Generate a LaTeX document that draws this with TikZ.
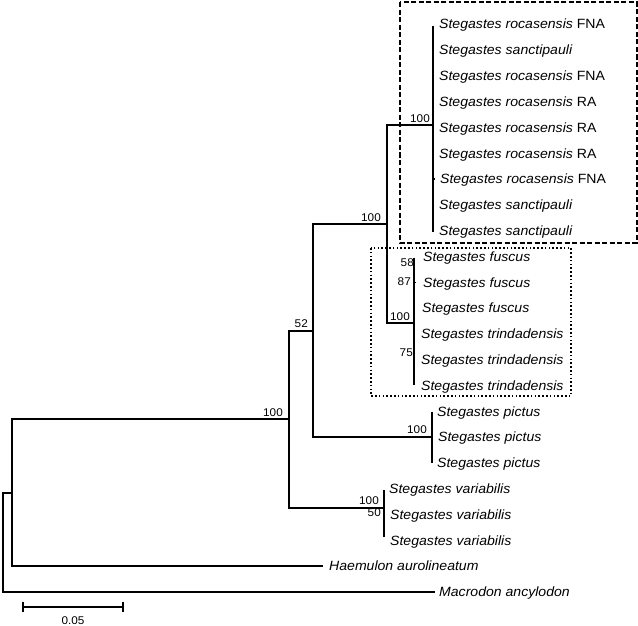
\documentclass[tikz,border=0pt]{standalone}
\usepackage{fontspec}
\setmainfont{Liberation Sans}
\newfontfamily\taxfont[FakeStretch=1.05]{Liberation Sans}
\begin{document}
\begin{tikzpicture}[x=1pt,y=-1pt,
  br/.style={line width=1.7pt},
  thickbr/.style={line width=2.8pt},
  tax/.style={anchor=west, inner sep=0pt, text height=10pt, text depth=1pt,
    font=\taxfont\fontsize{13.4}{15}\selectfont\itshape},
  bs/.style={anchor=base east, inner sep=0pt, font=\taxfont\fontsize{11.2}{13}\selectfont},
  dashbox/.style={line width=2pt, dash pattern=on 5pt off 2.5pt},
  dotbox/.style={line width=1.8pt, dash pattern=on 1.6pt off 2.2pt}]
\useasboundingbox[fill=white] (0,0) rectangle (638,626);

% tip labels
\node[tax] (l1) at (439,24.5) {Stegastes rocasensis \upshape FNA};
\node[tax] (l2) at (439,50.3) {Stegastes sanctipauli};
\node[tax] (l3) at (439,76.1) {Stegastes rocasensis \upshape FNA};
\node[tax] (l4) at (439,101.9) {Stegastes rocasensis \upshape RA};
\node[tax] (l5) at (439,127.7) {Stegastes rocasensis \upshape RA};
\node[tax] (l6) at (439,153.5) {Stegastes rocasensis \upshape RA};
\node[tax] (l7) at (440,179.3) {Stegastes rocasensis \upshape FNA};
\node[tax] (l8) at (439,205.1) {Stegastes sanctipauli};
\node[tax] (l9) at (439,230.9) {Stegastes sanctipauli};
\node[tax] (l10) at (423,256.7) {Stegastes fuscus};
\node[tax] (l11) at (423,282.5) {Stegastes fuscus};
\node[tax] (l12) at (422,308.3) {Stegastes fuscus};
\node[tax] (l13) at (421,334.1) {Stegastes trindadensis};
\node[tax] (l14) at (421,359.9) {Stegastes trindadensis};
\node[tax] (l15) at (421,385.7) {Stegastes trindadensis};
\node[tax] (l16) at (437,411.5) {Stegastes pictus};
\node[tax] (l17) at (438,437.3) {Stegastes pictus};
\node[tax] (l18) at (437,463.1) {Stegastes pictus};
\node[tax] (l19) at (389,488.9) {Stegastes variabilis};
\node[tax] (l20) at (390,514.7) {Stegastes variabilis};
\node[tax] (l21) at (390,540.5) {Stegastes variabilis};
\node[tax] (l22) at (329,566.3) {Haemulon aurolineatum};
\node[tax] (l23) at (439,592.1) {Macrodon ancylodon};

% internal nodes
\coordinate (nA) at (433,125);
\coordinate (nC) at (414,323);
\coordinate (nB) at (387,224);
\coordinate (nE) at (432,437);
\coordinate (nD) at (313,331);
\coordinate (nG) at (384,508);
\coordinate (nF) at (289,419);
\coordinate (nH) at (12,493);
\coordinate (root) at (3,542);
\coordinate (tHa) at (323,566.3);
\coordinate (tMa) at (435,592.1);

% branches
\draw[br] (root) |- (nH);
\draw[br] (root) |- (tMa);
\draw[br] (nH) |- (nF);
\draw[br] (nH) |- (tHa);
\draw[br] (nF) |- (nD);
\draw[br] (nF) |- (nG);
\draw[br] (nD) |- (nB);
\draw[br] (nD) |- (nE);
\draw[br] (nB) |- (nA);
\draw[br] (nB) |- (nC);
\draw[br] ([yshift=-2pt]nA |- l1) -- ([yshift=-1pt]nA |- l9);
\draw[br] (nA |- l7) -- ([xshift=2pt]nA |- l7);
\draw[br] ([yshift=-1pt]nC |- l10) -- ([yshift=1pt]nC |- l15);
\draw[thickbr] (414,279) -- (414,306);
\draw[thickbr] (414,333) -- (414,353);
\draw[br] (nC |- l11) -- ([xshift=2pt]nC |- l11);
\draw[br] (nE |- l16) -- (nE |- l18);
\draw[br] ([yshift=-1pt]nG |- l19) -- ([yshift=4pt]nG |- l21);
\draw[thickbr] (384,508) -- (384,522);

% bootstrap values
\node[bs] (b1) at (430,122.7) {100};
\node[bs] (b2) at (381,221.5) {100};
\node[bs] (b3) at (410,320) {100};
\node[bs] (b4) at (414,266) {58};
\node[bs] (b5) at (411,285.5) {87};
\node[bs] (b6) at (413,356) {75};
\node[bs] (b7) at (308,327.5) {52};
\node[bs] (b8) at (283,416.5) {100};
\node[bs] (b9) at (427,433) {100};
\node[bs] (b10) at (379,504.5) {100};
\node[bs] (b11) at (381,516) {50};

% clade boxes
\draw[dashbox] (399.5,2.5) rectangle (636.5,242.5);
\draw[dotbox] (371,248) rectangle (571,396);

% scale bar
\coordinate (sb1) at (23,607);
\coordinate (sb2) at (123,607);
\draw[br] (sb1) -- (sb2);
\draw[br] ([yshift=-5pt]sb1) -- ([yshift=5pt]sb1);
\draw[br] ([yshift=-5pt]sb2) -- ([yshift=5pt]sb2);
\node[anchor=center, inner sep=0pt, font=\taxfont\fontsize{11.2}{13}\selectfont] (sbl) at (73,621) {0.05};
\end{tikzpicture}
\end{document}
